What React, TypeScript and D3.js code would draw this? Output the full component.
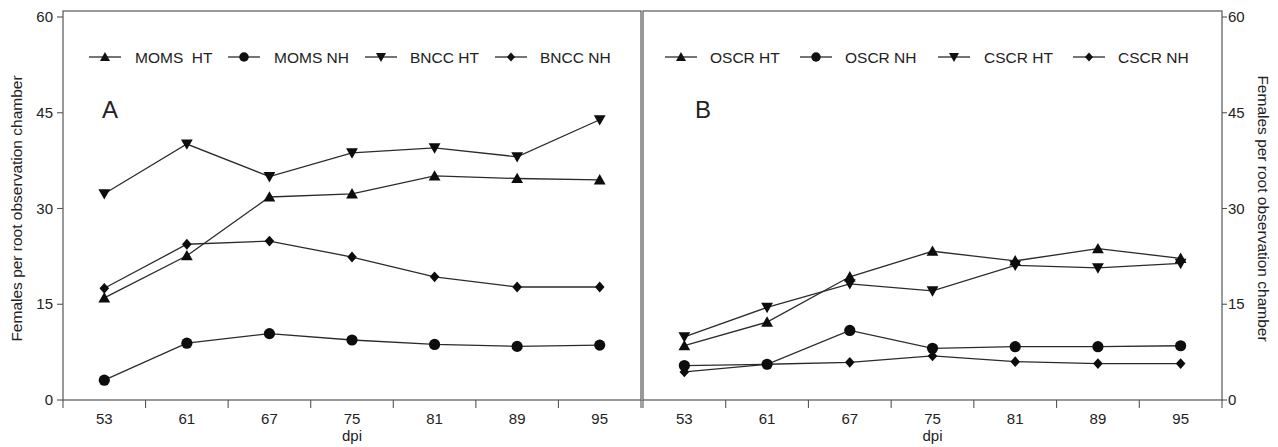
import React from "react";
import * as d3 from "d3";

// ---------- data ----------
const dpi = ["53", "61", "67", "75", "81", "89", "95"];
const yTicks = [0, 15, 30, 45, 60];

// Panel A
const momsHT = [16.0, 22.6, 31.8, 32.3, 35.1, 34.7, 34.5];
const momsNH = [3.1, 8.9, 10.4, 9.4, 8.7, 8.4, 8.6];
const bnccHT = [32.3, 40.1, 35.0, 38.7, 39.5, 38.1, 43.9];
const bnccNH = [17.5, 24.4, 24.9, 22.4, 19.3, 17.7, 17.7];

// Panel B
const oscrHT = [8.5, 12.2, 19.3, 23.3, 21.8, 23.7, 22.2];
const oscrNH = [5.4, 5.6, 10.9, 8.1, 8.35, 8.35, 8.5];
const cscrHT = [9.9, 14.5, 18.2, 17.1, 21.1, 20.7, 21.4];
const cscrNH = [4.4, 5.6, 5.9, 6.9, 6.0, 5.7, 5.7];

const seriesA = [
  { name: "MOMS  HT", values: momsHT, marker: "up" },
  { name: "MOMS NH", values: momsNH, marker: "circle" },
  { name: "BNCC HT", values: bnccHT, marker: "down" },
  { name: "BNCC NH", values: bnccNH, marker: "diamond" },
];
const seriesB = [
  { name: "OSCR HT", values: oscrHT, marker: "up" },
  { name: "OSCR NH", values: oscrNH, marker: "circle" },
  { name: "CSCR HT", values: cscrHT, marker: "down" },
  { name: "CSCR NH", values: cscrNH, marker: "diamond" },
];

// ---------- layout ----------
const W = 1278;
const H = 447;
const TOP = 11;
const Y0 = 400;
const Y60 = 17;
const FONT = "'Liberation Sans', Arial, Helvetica, sans-serif";
const LINE = "#2b2b2b";
const FRAME = "#555";
const TEXT = "#222";

const y = d3.scaleLinear().domain([0, 60]).range([Y0, Y60]);

function markerPath(kind: string, s: number): string {
  const p = d3.path();
  if (kind === "circle") {
    p.arc(0, 0, 5.6 * s, 0, Math.PI * 2);
  } else if (kind === "up") {
    p.moveTo(0, -5.8 * s);
    p.lineTo(5.9 * s, 4.6 * s);
    p.lineTo(-5.9 * s, 4.6 * s);
    p.closePath();
  } else if (kind === "down") {
    p.moveTo(0, 5.8 * s);
    p.lineTo(5.9 * s, -4.6 * s);
    p.lineTo(-5.9 * s, -4.6 * s);
    p.closePath();
  } else {
    p.moveTo(0, -5.4 * s);
    p.lineTo(4.8 * s, 0);
    p.lineTo(0, 5.4 * s);
    p.lineTo(-4.8 * s, 0);
    p.closePath();
  }
  return p.toString();
}

type Series = { name: string; values: number[]; marker: string };

function Panel(props: {
  x0: number;
  x1: number;
  series: Series[];
  side: "left" | "right";
  letter: string;
  letterX: number;
  legend: { lx: number; tx: number }[];
}) {
  const { x0, x1, series, side, letter, letterX, legend } = props;
  const x = d3.scaleBand<string>().domain(dpi).range([x0, x1]).paddingInner(0).paddingOuter(0);
  const bw = x.bandwidth();
  const cx = (d: string) => (x(d) as number) + bw / 2;
  const line = d3
    .line<number>()
    .x((_, i) => cx(dpi[i]))
    .y((v) => y(v));
  const boundaries = dpi.map((d) => x(d) as number).concat([x1]);
  const axisX = side === "left" ? x0 : x1;
  const legendY = 57;

  return (
    <g>
      {/* frame */}
      <rect x={x0} y={TOP} width={x1 - x0} height={Y0 - TOP} fill="none" stroke={FRAME} strokeWidth={1.2} />
      {/* x ticks */}
      {boundaries.map((b, i) => (
        <line key={"xt" + i} x1={b} x2={b} y1={Y0} y2={Y0 + 8} stroke={FRAME} strokeWidth={1.1} />
      ))}
      {dpi.map((d) => (
        <text key={"xl" + d} x={cx(d)} y={424} textAnchor="middle" fontSize={15} fill={TEXT} fontFamily={FONT}>
          {d}
        </text>
      ))}
      <text x={(x0 + x1) / 2} y={441} textAnchor="middle" fontSize={15} fill={TEXT} fontFamily={FONT}>
        dpi
      </text>
      {/* y ticks */}
      {yTicks.map((t) => (
        <g key={"yt" + t}>
          <line
            x1={axisX}
            x2={side === "left" ? axisX - 6 : axisX + 5}
            y1={y(t)}
            y2={y(t)}
            stroke={FRAME}
            strokeWidth={1.1}
          />
          <text
            x={side === "left" ? axisX - 10 : axisX + 6}
            y={y(t) + 5}
            textAnchor={side === "left" ? "end" : "start"}
            fontSize={15}
            fill={TEXT}
            fontFamily={FONT}
          >
            {t}
          </text>
        </g>
      ))}
      {/* panel letter */}
      <text x={letterX} y={118} fontSize={24} fill={TEXT} fontFamily={FONT}>
        {letter}
      </text>
      {/* legend */}
      {series.map((s, i) => (
        <g key={"lg" + i}>
          <line x1={legend[i].lx - 16} x2={legend[i].lx + 16} y1={legendY} y2={legendY} stroke={LINE} strokeWidth={1.3} />
          <path d={markerPath(s.marker, 0.85)} transform={`translate(${legend[i].lx},${legendY})`} fill="#111" />
          <text
            x={legend[i].tx}
            y={legendY + 5.5}
            fontSize={15.5}
            fill={TEXT}
            fontFamily={FONT}
            style={{ whiteSpace: "pre" }}
          >
            {s.name}
          </text>
        </g>
      ))}
      {/* lines */}
      {series.map((s, i) => (
        <path key={"ln" + i} d={line(s.values) as string} fill="none" stroke={LINE} strokeWidth={1.3} />
      ))}
      {/* markers */}
      {series.map((s, i) =>
        s.values.map((v, j) => (
          <path
            key={"mk" + i + "-" + j}
            d={markerPath(s.marker, 1)}
            transform={`translate(${cx(dpi[j])},${y(v)})`}
            fill="#0d0d0d"
          />
        ))
      )}
    </g>
  );
}

export default function App() {
  return (
    <svg
      width={W}
      height={H}
      viewBox={`0 0 ${W} ${H}`}
      style={{ position: "absolute", left: 0, top: 0, background: "#fff" }}
    >
      <rect x={0} y={0} width={W} height={H} fill="#fff" />
      <Panel
        x0={63}
        x1={641}
        series={seriesA}
        side="left"
        letter="A"
        letterX={102}
        legend={[
          { lx: 105, tx: 135 },
          { lx: 244, tx: 274 },
          { lx: 381, tx: 410 },
          { lx: 511, tx: 540 },
        ]}
      />
      <Panel
        x0={643}
        x1={1222}
        series={seriesB}
        side="right"
        letter="B"
        letterX={695}
        legend={[
          { lx: 681, tx: 710 },
          { lx: 816, tx: 845 },
          { lx: 954, tx: 984 },
          { lx: 1089, tx: 1118 },
        ]}
      />
      <text
        transform={`translate(22,${(Y0 + Y60) / 2}) rotate(-90)`}
        textAnchor="middle"
        fontSize={15.5}
        fill={TEXT}
        fontFamily={FONT}
      >
        Females per root observation chamber
      </text>
      <text
        transform={`translate(1258,${(Y0 + Y60) / 2}) rotate(90)`}
        textAnchor="middle"
        fontSize={15.5}
        fill={TEXT}
        fontFamily={FONT}
      >
        Females per root observation chamber
      </text>
    </svg>
  );
}
